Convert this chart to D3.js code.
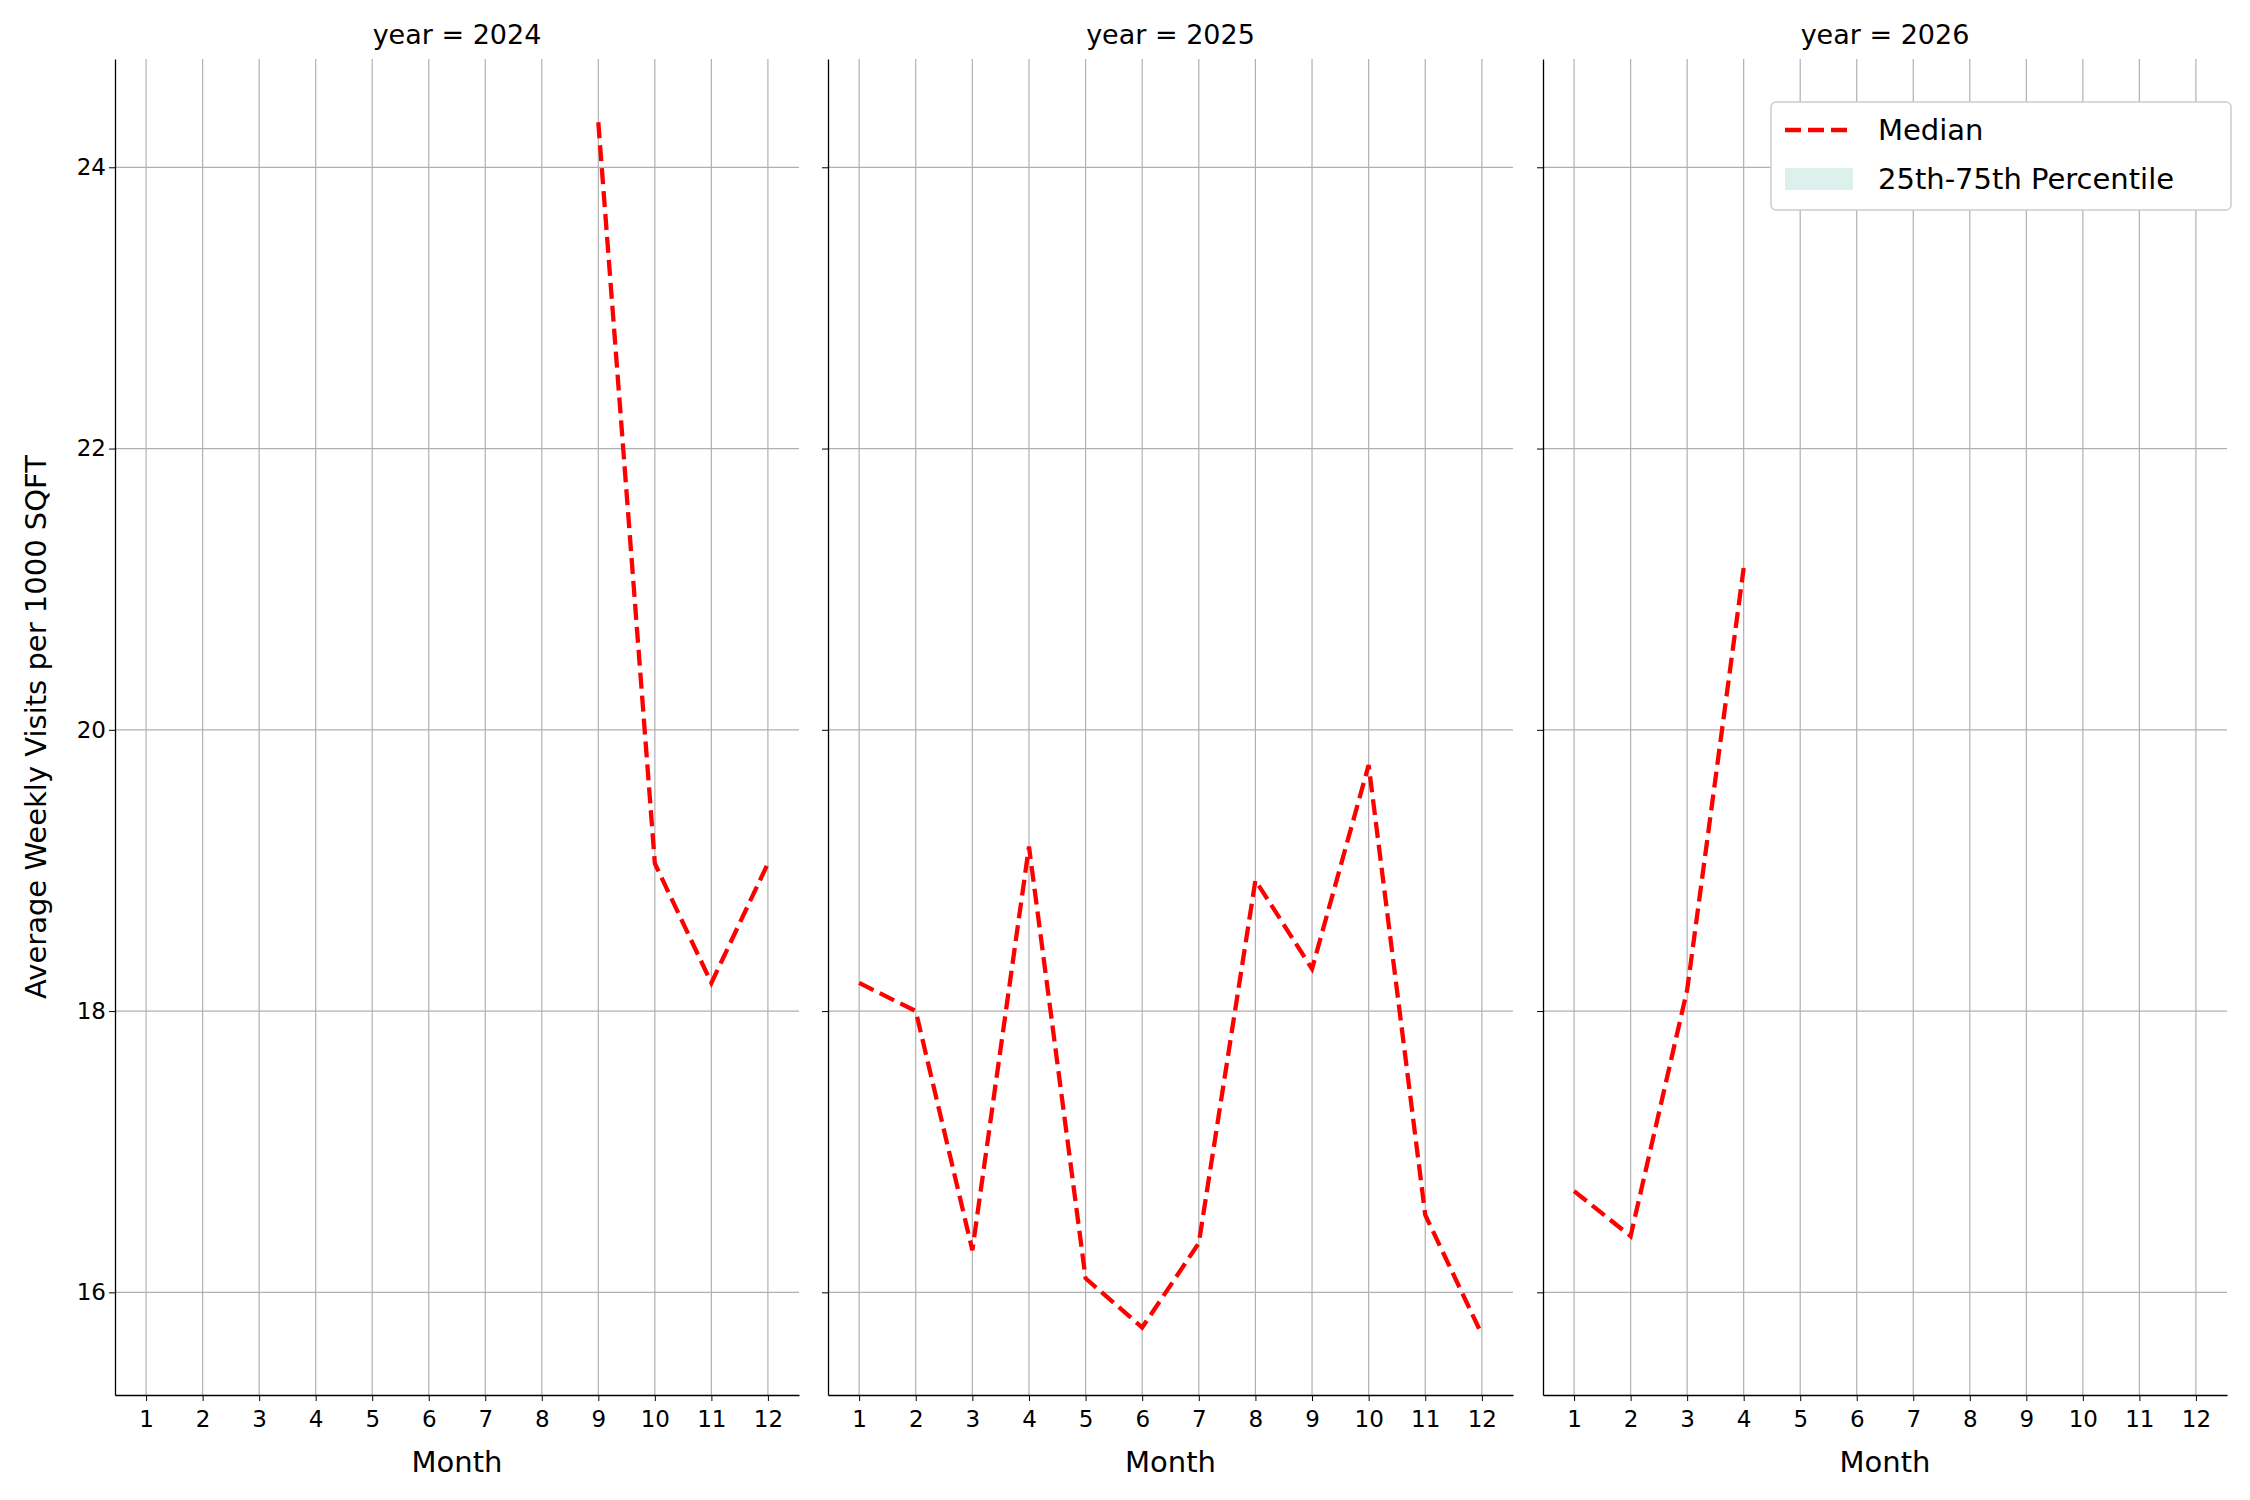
<!DOCTYPE html><html><head><meta charset="utf-8">
<script src="https://cdn.jsdelivr.net/npm/d3@7"></script>
<style>body{margin:0;background:#fff}text{font-family:"DejaVu Sans",sans-serif}</style></head><body>
<svg id="c" width="2250" height="1500"></svg>
<script>
const years=[2024,2025,2026];
const months=[1,2,3,4,5,6,7,8,9,10,11,12];
const median2024=[null,null,null,null,null,null,null,null,24.32,19.05,18.2,19.05];
const median2025=[18.2,18.0,16.3,19.17,16.1,15.75,16.35,18.93,18.3,19.75,16.55,15.7];
const median2026=[16.72,16.4,18.15,21.15,null,null,null,null,null,null,null,null];
const yTicks=[16,18,20,22,24];
const series=[median2024,median2025,median2026];
const svg=d3.select("#c");
const panels=[[115,799],[828,1513],[1543,2227]];
const pTop=59,pBot=1395;
const y=d3.scaleLinear().domain([15.27,24.77]).range([pBot,pTop]);
panels.forEach((p,i)=>{
  const x=d3.scaleLinear().domain([0.45,12.55]).range(p);
  const g=svg.append("g");
  months.forEach(m=>g.append("line").attr("x1",x(m)).attr("x2",x(m)).attr("y1",pTop).attr("y2",pBot).attr("stroke","#b0b0b0").attr("stroke-width",1.2));
  yTicks.forEach(t=>g.append("line").attr("x1",p[0]).attr("x2",p[1]).attr("y1",y(t)).attr("y2",y(t)).attr("stroke","#b0b0b0").attr("stroke-width",1.2));
  const xa=g.append("g").attr("transform",`translate(0,${pBot})`).call(d3.axisBottom(x).tickValues(months).tickSize(6).tickSizeOuter(0));
  xa.selectAll("text").attr("font-size",23).attr("dy","1.0em").attr("fill","#000");
  const ya=g.append("g").attr("transform",`translate(${p[0]},0)`).call(d3.axisLeft(y).tickValues(yTicks).tickSize(6).tickSizeOuter(0));
  ya.selectAll("text").attr("font-size",23).attr("fill","#000");
  if(i>0) ya.selectAll("text").remove();
  g.selectAll(".domain").attr("stroke","#000").attr("stroke-width",1.3);
  const line=d3.line().defined(d=>d!=null).x((d,j)=>x(months[j])).y(d=>y(d));
  g.append("path").datum(series[i]).attr("d",line).attr("fill","none").attr("stroke","red").attr("stroke-width",4.3).attr("stroke-dasharray","16,7");
  g.append("text").attr("x",(p[0]+p[1])/2).attr("y",44).attr("text-anchor","middle").attr("font-size",27).text("year = "+years[i]);
  g.append("text").attr("x",(p[0]+p[1])/2).attr("y",1472).attr("text-anchor","middle").attr("font-size",29).text("Month");
});
svg.append("text").attr("transform",`translate(46,${(pTop+pBot)/2}) rotate(-90)`).attr("text-anchor","middle").attr("font-size",29).text("Average Weekly Visits per 1000 SQFT");
const lg=svg.append("g");
lg.append("rect").attr("x",1771).attr("y",102).attr("width",460).attr("height",108).attr("rx",5).attr("fill","#fff").attr("stroke","#ccc").attr("stroke-width",1.5);
lg.append("line").attr("x1",1785).attr("x2",1853).attr("y1",130).attr("y2",130).attr("stroke","red").attr("stroke-width",4.3).attr("stroke-dasharray","16,7");
lg.append("rect").attr("x",1785).attr("y",168).attr("width",68).attr("height",22).attr("fill","#d4ede7").attr("opacity",0.8);
lg.append("text").attr("x",1878).attr("y",140).attr("font-size",29).text("Median");
lg.append("text").attr("x",1878).attr("y",189).attr("font-size",29).text("25th-75th Percentile");
</script></body></html>
